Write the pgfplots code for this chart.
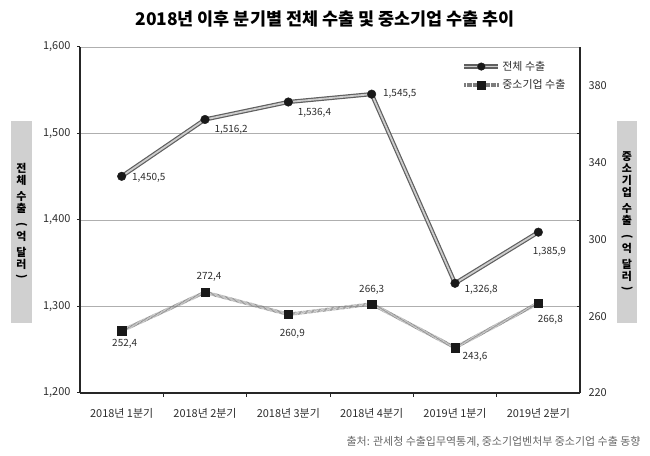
\documentclass[border=0pt]{standalone}
\usepackage{pgfplots}
\pgfplotsset{compat=1.18}
\usepackage{fontspec}
\setmainfont{Noto Sans CJK KR}
\usepackage{graphicx}

\definecolor{boxgray}{RGB}{208,208,208}
\definecolor{txt}{RGB}{45,45,45}
\definecolor{gridgray}{RGB}{175,175,175}
\definecolor{lineout}{RGB}{95,95,95}
\definecolor{linein}{RGB}{205,205,205}
\definecolor{smline}{RGB}{125,125,125}
\newcommand{\RP}[1]{\rotatebox[origin=c]{-90}{#1}}

\pgfplotstableread{
x y
0 1450.5
1 1516.2
2 1536.4
3 1545.5
4 1326.8
5 1385.9
}\totaltab

\pgfplotstableread{
x y
0 252.4
1 272.4
2 260.9
3 266.3
4 243.6
5 266.8
}\smetab

\begin{document}
\begin{tikzpicture}[x=1bp,y=1bp]
\useasboundingbox (0,0) rectangle (650,456);
\node[font=\bfseries\fontsize{17.5}{19}\selectfont, anchor=center] at (325,437) {2018년 이후 분기별 전체 수출 및 중소기업 수출 추이};
\fill[boxgray] (11,133) rectangle (32,335);
\fill[boxgray] (617,133) rectangle (637,335);
\node[font=\bfseries\fontsize{11}{12}\selectfont, inner sep=0pt, align=center] at (21.5,234) {전\\체\\[4bp]수\\출\\[4bp]\RP{(}\\억\\[4bp]달\\러\\\RP{)}};
\node[font=\bfseries\fontsize{11}{12}\selectfont, inner sep=0pt, align=center] at (627,234) {중\\소\\기\\업\\[4bp]수\\출\\[4bp]\RP{(}\\억\\[4bp]달\\러\\\RP{)}};
\node[anchor=east, font=\fontsize{11}{12}\selectfont, text=black!60] at (644,14) {출처: 관세청 수출입무역통계, 중소기업벤처부 중소기업 수출 동향};

\begin{axis}[name=main, at={(80bp,63bp)}, anchor=south west, scale only axis,
  width=500bp, height=346bp,
  xmin=-0.5, xmax=5.5, ymin=1200, ymax=1600,
  ytick={1200,1300,1400,1500,1600},
  ymajorgrids, grid style={gridgray, line width=0.6pt},
  axis x line*=bottom, axis y line*=left,
  axis line style={-, line width=1.3pt, black!85},
  tick style={black!85, line width=1pt},
  tick align=outside, major tick length=3bp,
  xtick={0,1,2,3,4,5},
  xticklabels={2018년 1분기,2018년 2분기,2018년 3분기,2018년 4분기,2019년 1분기,2019년 2분기},
  xtick style={draw=none},
  extra x ticks={0.5,1.5,2.5,3.5,4.5},
  extra x tick labels={},
  extra x tick style={xtick style={draw=black!85, line width=0.8pt}, major tick length=4bp, tick align=outside},
  ticklabel style={font=\fontsize{11}{12}\selectfont, text=txt},
  xticklabel style={yshift=-9bp},
  yticklabel style={xshift=-3bp},
  /pgf/number format/1000 sep={,},
  /pgf/number format/assume math mode=true,
  clip=false,
]
\addplot[lineout, line width=4.2pt, no marks] table[x=x,y=y] {\totaltab};
\addplot[linein, line width=1.8pt, no marks] table[x=x,y=y] {\totaltab};
\addplot[only marks, mark=*, mark size=4.3bp, mark options={fill=black!90, draw=black!90}] table[x=x,y=y] {\totaltab};
\begin{scope}[font=\fontsize{10}{11}\selectfont, text=txt]
\node[anchor=west] at ([xshift=7bp,yshift=-2bp]axis cs:0,1450.5) {1,450,5};
\node[anchor=west] at ([xshift=6bp,yshift=-10bp]axis cs:1,1516.2) {1,516,2};
\node[anchor=west] at ([xshift=6bp,yshift=-11bp]axis cs:2,1536.4) {1,536,4};
\node[anchor=west] at ([xshift=8bp,yshift=0bp]axis cs:3,1545.5) {1,545,5};
\node[anchor=west] at ([xshift=6bp,yshift=-7bp]axis cs:4,1326.8) {1,326,8};
\node[anchor=center] at ([xshift=11bp,yshift=-20bp]axis cs:5,1385.9) {1,385,9};
\end{scope}
\end{axis}

\begin{axis}[at={(main.south west)}, anchor=south west, scale only axis,
  width=500bp, height=346bp,
  xmin=-0.5, xmax=5.5, ymin=220, ymax=400,
  ytick={220,260,300,340,380},
  axis x line=none, axis y line*=right,
  axis line style={-, line width=1.3pt, black!85},
  major tick length=0pt,
  extra y ticks={265,310,355}, extra y tick labels={},
  extra y tick style={major tick length=3bp, tick align=inside, tick style={black!85, line width=0.8pt}},
  ticklabel style={font=\fontsize{11}{12}\selectfont, text=txt},
  yticklabel style={xshift=5bp},
  /pgf/number format/assume math mode=true,
  legend style={at={(0.762,0.968)}, anchor=north west, draw=none, fill=none,
    font=\fontsize{11}{12}\selectfont, text=txt, row sep=4bp, inner sep=1bp},
  legend cell align=left,
  clip=false,
]
\addlegendimage{legend image code/.code={
  \draw[lineout, line width=4.2pt] (0cm,0cm) -- (1.2cm,0cm);
  \draw[linein, line width=1.8pt] (0cm,0cm) -- (1.2cm,0cm);
  \fill[black!90] (0.6cm,0cm) circle (3.8bp);
}}
\addlegendentry{전체 수출}
\addlegendimage{legend image code/.code={
  \draw[smline, line width=3.5pt, dash pattern=on 0.5pt off 0.7pt] (0cm,0cm) -- (1.2cm,0cm);
  \fill[black!90] (0.6cm-4bp,-4bp) rectangle (0.6cm+4bp,4bp);
}}
\addlegendentry{중소기업 수출}
\addplot[smline, line width=3.5pt, dash pattern=on 0.5pt off 0.7pt, no marks, forget plot] table[x=x,y=y] {\smetab};
\addplot[only marks, mark=square*, mark size=4.2bp, mark options={fill=black!90, draw=black!90, solid}, forget plot] table[x=x,y=y] {\smetab};
\begin{scope}[font=\fontsize{10}{11}\selectfont, text=txt]
\node at ([xshift=3bp,yshift=-13bp]axis cs:0,252.4) {252,4};
\node at ([xshift=4bp,yshift=15bp]axis cs:1,272.4) {272,4};
\node at ([xshift=4bp,yshift=-19bp]axis cs:2,260.9) {260,9};
\node at ([xshift=0bp,yshift=14bp]axis cs:3,266.3) {266,3};
\node at ([xshift=20bp,yshift=-9bp]axis cs:4,243.6) {243,6};
\node at ([xshift=12bp,yshift=-17bp]axis cs:5,266.8) {266,8};
\end{scope}
\end{axis}
\end{tikzpicture}
\end{document}
